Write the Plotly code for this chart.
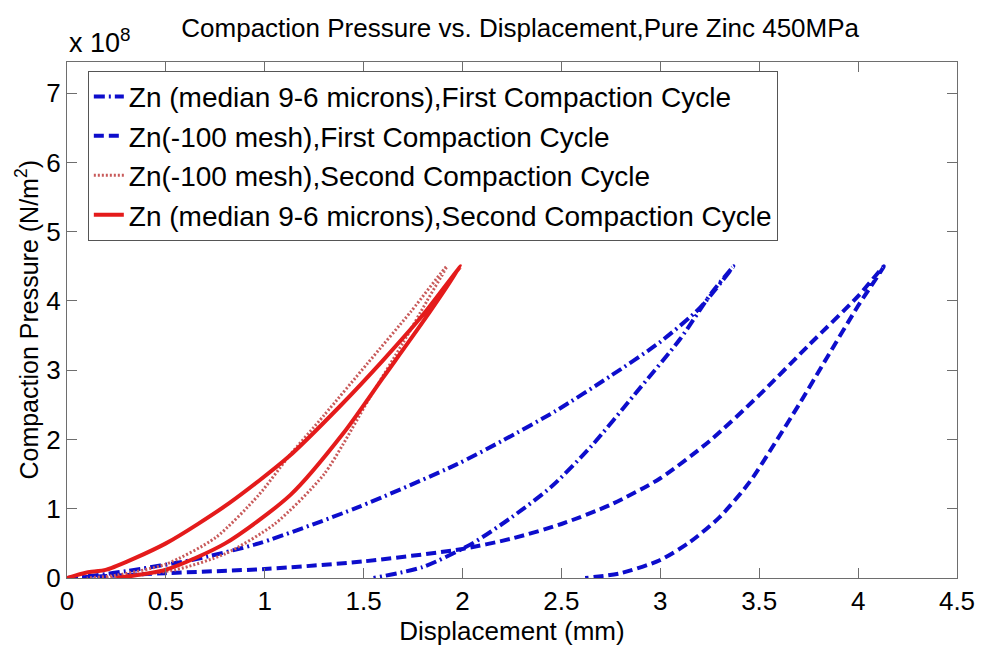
import plotly.graph_objects as go

# Displacement (mm) and compaction pressure (x 1e8 N/m^2)
zn_med_c1_x = [0.0, 0.15, 0.3, 0.63, 0.97, 1.47, 1.97, 2.2, 2.47, 2.75, 3.0, 3.2, 3.37,
               3.26, 3.1, 2.87, 2.65, 2.45, 2.25, 2.05, 1.8, 1.55]
zn_med_c1_y = [0.0, 0.04, 0.1, 0.26, 0.5, 1.02, 1.64, 1.98, 2.41, 2.92, 3.41, 3.9, 4.5,
               4.12, 3.45, 2.65, 1.9, 1.32, 0.88, 0.5, 0.16, 0.0]

zn_mesh_c1_x = [0.0, 0.5, 1.0, 1.5, 2.0, 2.25, 2.5, 2.75, 3.0, 3.25, 3.5, 3.75, 4.0, 4.13,
                4.0, 3.84, 3.7, 3.58, 3.45, 3.3, 3.15, 3.0, 2.8, 2.62]
zn_mesh_c1_y = [0.0, 0.07, 0.13, 0.24, 0.42, 0.57, 0.78, 1.06, 1.44, 1.98, 2.64, 3.36, 4.07, 4.5,
                3.93, 3.17, 2.5, 1.95, 1.38, 0.88, 0.52, 0.26, 0.07, 0.0]

zn_mesh_c2_x = [0.2, 0.55, 0.8, 1.05, 1.3, 1.53, 1.7, 1.82, 1.92,
                1.74, 1.52, 1.3, 1.12, 0.97, 0.75, 0.5, 0.25, 0.1]
zn_mesh_c2_y = [0.0, 0.12, 0.35, 0.78, 1.5, 2.6, 3.4, 4.0, 4.5,
                3.85, 3.1, 2.35, 1.75, 1.2, 0.58, 0.2, 0.04, 0.0]

zn_med_c2_x = [0.25, 0.5, 0.8, 1.13, 1.4, 1.6, 1.8, 1.99,
               1.8, 1.6, 1.38, 1.12, 0.82, 0.5, 0.2, 0.1, 0.0]
zn_med_c2_y = [0.0, 0.12, 0.5, 1.2, 2.1, 2.9, 3.7, 4.5,
               3.8, 3.15, 2.48, 1.75, 1.08, 0.5, 0.12, 0.08, 0.0]

x_ticks = [0, 0.5, 1, 1.5, 2, 2.5, 3, 3.5, 4, 4.5]
x_tick_labels = ["0", "0.5", "1", "1.5", "2", "2.5", "3", "3.5", "4", "4.5"]
y_ticks = [0, 1, 2, 3, 4, 5, 6, 7]
y_tick_labels = ["0", "1", "2", "3", "4", "5", "6", "7"]

names = [
    "Zn (median 9-6 microns),First Compaction Cycle",
    "Zn(-100 mesh),First Compaction Cycle",
    "Zn(-100 mesh),Second Compaction Cycle",
    "Zn (median 9-6 microns),Second Compaction Cycle",
]

FONT = "Liberation Sans, Arial, sans-serif"
BLUE = "#0d0dcc"
RED = "#e41b1b"
PINK = "#c85a5a"

fig = go.Figure()
fig.add_trace(go.Scatter(x=zn_med_c1_x, y=zn_med_c1_y, mode="lines", name=names[0],
                         line=dict(color=BLUE, width=4, dash="11px,4px,2px,4px",
                                   shape="spline", smoothing=0.7),
                         legendgroup="a"))
fig.add_trace(go.Scatter(x=zn_mesh_c1_x, y=zn_mesh_c1_y, mode="lines", name=names[1],
                         line=dict(color=BLUE, width=4, dash="10px,5px",
                                   shape="spline", smoothing=0.7),
                         legendgroup="b"))
fig.add_trace(go.Scatter(x=zn_mesh_c2_x, y=zn_mesh_c2_y, mode="lines", name=names[2],
                         line=dict(color=PINK, width=3, dash="2px,2px",
                                   shape="spline", smoothing=0.7),
                         legendgroup="c"))
fig.add_trace(go.Scatter(x=zn_med_c2_x, y=zn_med_c2_y, mode="lines", name=names[3],
                         line=dict(color=RED, width=4, shape="spline", smoothing=0.7),
                         legendgroup="d"))

axis_common = dict(
    showline=True, linecolor="#6e6e6e", linewidth=1, mirror="ticks",
    ticks="inside", ticklen=10, tickcolor="#6e6e6e", tickwidth=1,
    showgrid=False, zeroline=False,
    tickfont=dict(family=FONT, size=26, color="black"),
)

fig.update_layout(
    width=987, height=646,
    margin=dict(l=67, r=22, t=62, b=64),
    paper_bgcolor="white", plot_bgcolor="white",
    font=dict(family=FONT, color="black"),
    title=dict(text="Compaction Pressure vs. Displacement,Pure Zinc 450MPa",
               x=0.527, xanchor="center", y=1 - 28 / 646, yanchor="middle",
               font=dict(family=FONT, size=26, color="black")),
    xaxis=dict(range=[0, 4.5], tickvals=x_ticks, ticktext=x_tick_labels,
               title=dict(text="Displacement (mm)", font=dict(family=FONT, size=26), standoff=0),
               **axis_common),
    yaxis=dict(range=[0, 7.45], tickvals=y_ticks, ticktext=y_tick_labels,
               **axis_common),
    legend=dict(x=0.0234, y=0.983, xanchor="left", yanchor="top",
                bgcolor="white", bordercolor="#555555", borderwidth=1,
                font=dict(family=FONT, size=28, color="black"),
                traceorder="grouped", tracegroupgap=0,
                itemwidth=30),
    showlegend=True,
)

# y-axis title placed close to the tick labels, as in the reference
fig.add_annotation(text="Compaction Pressure (N/m<sup>2</sup>)", xref="paper", yref="paper",
                   x=-0.0445, y=0.5016, xanchor="center", yanchor="middle", textangle=-90,
                   showarrow=False, font=dict(family=FONT, size=25, color="black"))

fig.add_annotation(text="x 10<sup>8</sup>", xref="paper", yref="paper", x=0, y=1,
                   xanchor="left", yanchor="bottom", yshift=2, showarrow=False,
                   font=dict(family=FONT, size=27, color="black"))

fig.write_html("out.html")
